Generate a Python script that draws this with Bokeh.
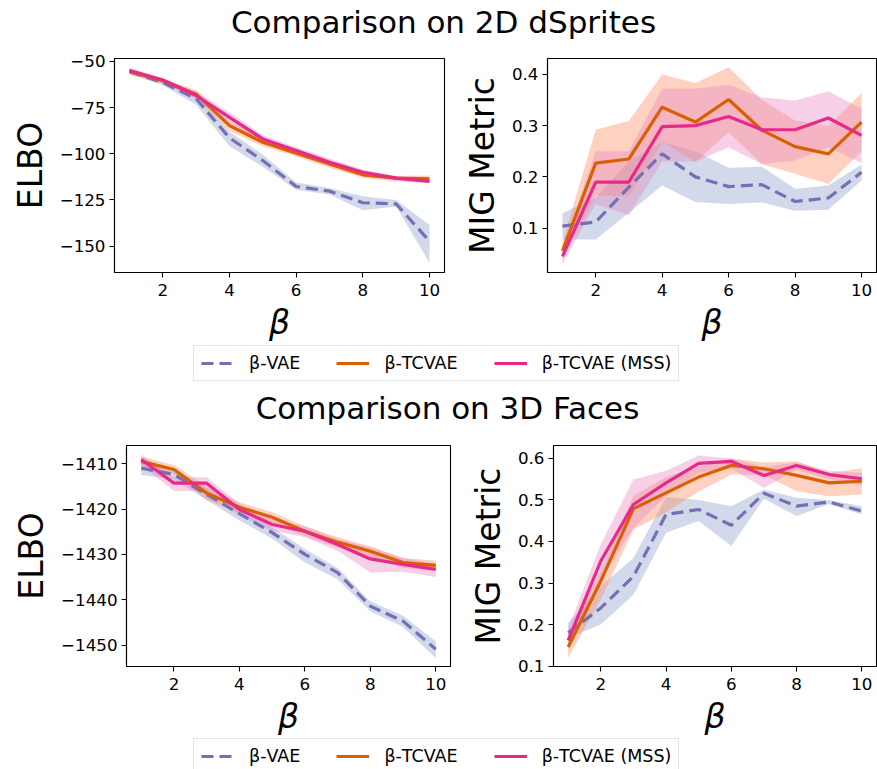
from bokeh.plotting import figure
from bokeh.layouts import column, row
from bokeh.models import Range1d, FixedTicker, CustomJSTickFormatter, Legend, LegendItem
from bokeh.embed import file_html
from bokeh.resources import INLINE

# ---------------- data ----------------
beta = [1, 2, 3, 4, 5, 6, 7, 8, 9, 10]
x_ticks = [2, 4, 6, 8, 10]

# 2D dSprites - ELBO
ds_elbo_vae = [-55.5, -61.5, -70.3, -91.4, -103.7, -117.7, -120.2, -126.5, -127.1, -147.3]
ds_elbo_vae_lo = [-57.0, -63.0, -73.5, -96.0, -107.0, -119.5, -122.0, -130.5, -128.5, -159.0]
ds_elbo_vae_hi = [-54.0, -60.0, -67.5, -88.0, -100.5, -115.5, -118.5, -123.0, -125.0, -138.5]
ds_elbo_tc = [-55.5, -60.5, -67.8, -84.8, -93.8, -99.7, -105.5, -111.4, -113.2, -113.6]
ds_elbo_tc_lo = [-57.0, -62.0, -70.0, -87.5, -96.0, -101.5, -107.5, -113.0, -114.8, -115.5]
ds_elbo_tc_hi = [-54.0, -59.5, -65.5, -82.5, -91.5, -97.5, -103.5, -109.5, -112.0, -111.8]
ds_elbo_mss = [-55.0, -60.1, -68.5, -80.3, -92.0, -98.3, -104.6, -110.0, -113.2, -114.9]
ds_elbo_mss_lo = [-56.5, -61.5, -70.5, -83.0, -94.0, -100.0, -106.5, -111.5, -114.5, -116.0]
ds_elbo_mss_hi = [-53.5, -59.0, -66.5, -77.5, -90.0, -96.5, -102.5, -108.5, -112.0, -113.5]
ds_elbo_ticks = [-150, -125, -100, -75, -50]

# 2D dSprites - MIG
ds_mig_vae = [0.104, 0.112, 0.180, 0.245, 0.200, 0.181, 0.185, 0.152, 0.159, 0.209]
ds_mig_vae_lo = [0.078, 0.078, 0.130, 0.183, 0.151, 0.147, 0.150, 0.134, 0.136, 0.193]
ds_mig_vae_hi = [0.129, 0.160, 0.230, 0.268, 0.250, 0.218, 0.220, 0.177, 0.183, 0.224]
ds_mig_tc = [0.056, 0.227, 0.235, 0.336, 0.307, 0.351, 0.291, 0.259, 0.245, 0.307]
ds_mig_tc_lo = [0.040, 0.164, 0.162, 0.268, 0.229, 0.287, 0.225, 0.206, 0.186, 0.250]
ds_mig_tc_hi = [0.072, 0.292, 0.309, 0.400, 0.383, 0.414, 0.350, 0.310, 0.300, 0.363]
ds_mig_mss = [0.045, 0.190, 0.190, 0.298, 0.300, 0.318, 0.292, 0.292, 0.315, 0.281]
ds_mig_mss_lo = [0.030, 0.147, 0.125, 0.230, 0.230, 0.258, 0.225, 0.232, 0.258, 0.227]
ds_mig_mss_hi = [0.060, 0.250, 0.250, 0.372, 0.372, 0.380, 0.355, 0.349, 0.367, 0.333]
ds_mig_ticks = [0.1, 0.2, 0.3, 0.4]

# 3D Faces - ELBO
fc_elbo_vae = [-1411.0, -1412.4, -1416.8, -1421.0, -1425.2, -1430.0, -1434.0, -1441.4, -1444.7, -1450.9]
fc_elbo_vae_lo = [-1412.5, -1413.5, -1418.0, -1422.5, -1426.5, -1431.8, -1435.5, -1442.5, -1446.0, -1452.8]
fc_elbo_vae_hi = [-1409.5, -1411.3, -1415.5, -1419.8, -1424.0, -1428.8, -1433.0, -1440.3, -1443.5, -1449.2]
fc_elbo_tc = [-1409.5, -1411.3, -1416.5, -1419.6, -1421.8, -1424.9, -1427.3, -1429.3, -1431.8, -1432.4]
fc_elbo_tc_lo = [-1410.5, -1412.3, -1418.0, -1420.8, -1423.0, -1426.0, -1428.5, -1430.5, -1433.0, -1433.5]
fc_elbo_tc_hi = [-1408.5, -1410.3, -1415.0, -1418.5, -1420.7, -1423.8, -1426.2, -1428.2, -1430.8, -1431.4]
fc_elbo_mss = [-1409.1, -1414.3, -1414.3, -1420.1, -1423.4, -1424.9, -1427.8, -1431.0, -1432.2, -1433.3]
fc_elbo_mss_lo = [-1410.3, -1416.0, -1416.0, -1421.5, -1424.8, -1426.2, -1429.2, -1434.0, -1433.8, -1435.0]
fc_elbo_mss_hi = [-1408.0, -1413.0, -1413.0, -1418.8, -1422.2, -1423.8, -1426.6, -1428.5, -1430.8, -1432.0]
fc_elbo_ticks = [-1450, -1440, -1430, -1420, -1410]

# 3D Faces - MIG
fc_mig_vae = [0.180, 0.240, 0.316, 0.465, 0.477, 0.439, 0.516, 0.485, 0.495, 0.473]
fc_mig_vae_lo = [0.168, 0.200, 0.272, 0.421, 0.449, 0.389, 0.503, 0.461, 0.490, 0.465]
fc_mig_vae_hi = [0.205, 0.292, 0.360, 0.507, 0.500, 0.485, 0.525, 0.505, 0.500, 0.485]
fc_mig_tc = [0.146, 0.305, 0.479, 0.517, 0.555, 0.583, 0.575, 0.559, 0.541, 0.545]
fc_mig_tc_lo = [0.120, 0.260, 0.429, 0.470, 0.520, 0.561, 0.560, 0.521, 0.509, 0.513]
fc_mig_tc_hi = [0.170, 0.330, 0.510, 0.555, 0.580, 0.600, 0.590, 0.593, 0.565, 0.576]
fc_mig_mss = [0.162, 0.353, 0.489, 0.541, 0.588, 0.593, 0.559, 0.583, 0.561, 0.551]
fc_mig_mss_lo = [0.140, 0.310, 0.432, 0.510, 0.565, 0.575, 0.529, 0.573, 0.550, 0.535]
fc_mig_mss_hi = [0.190, 0.393, 0.549, 0.570, 0.607, 0.600, 0.580, 0.590, 0.570, 0.565]
fc_mig_ticks = [0.1, 0.2, 0.3, 0.4, 0.5, 0.6]

labels = ["β-VAE", "β-TCVAE", "β-TCVAE (MSS)"]
titles = ["Comparison on 2D dSprites", "Comparison on 3D Faces"]

# ---------------- style ----------------
FONT = "DejaVu Sans"
LINE_COLORS = ["#7570b3", "#d95f02", "#e7298a"]
FILL_COLORS = ["#8da0cb", "#fc8d62", "#e78ac3"]
DASHES = ["12 6", "solid", "solid"]
LW = 3.2
TICK_FS = "16.7px"
LEGEND_FS = "17.5px"

neg_fmt = CustomJSTickFormatter(code="return tick < 0 ? '\\u2212' + Math.abs(tick) : String(tick);")
dec_fmt = CustomJSTickFormatter(code="return tick.toFixed(1);")


def make_panel(series, yticks, yrange, ylabel, fmt, fw, fh, mbl, mbr, mbt, mbb):
    p = figure(frame_width=fw, frame_height=fh,
               x_range=Range1d(0.55, 10.45), y_range=Range1d(*yrange),
               output_backend="svg", toolbar_location=None,
               min_border_left=mbl, min_border_right=mbr,
               min_border_top=mbt, min_border_bottom=mbb)
    p.grid.visible = False
    p.outline_line_color = "black"
    p.outline_line_width = 1.1
    p.background_fill_color = "white"
    p.border_fill_color = "white"
    for ax in (p.xaxis[0], p.yaxis[0]):
        ax.axis_line_color = "black"
        ax.axis_line_width = 1.1
        ax.major_tick_line_color = "black"
        ax.major_tick_line_width = 1.1
        ax.major_tick_in = 0
        ax.major_tick_out = 5
        ax.minor_tick_line_color = None
        ax.major_label_text_font = FONT
        ax.major_label_text_font_size = TICK_FS
        ax.major_label_text_color = "black"
        ax.axis_label_text_font = FONT
        ax.axis_label_text_font_size = "33px"
        ax.axis_label_text_color = "black"
    p.xaxis.ticker = FixedTicker(ticks=x_ticks)
    p.yaxis.ticker = FixedTicker(ticks=yticks)
    p.yaxis.formatter = fmt
    p.xaxis.major_label_standoff = 6
    p.yaxis.major_label_standoff = 4
    p.xaxis.axis_label = "β"
    p.xaxis.axis_label_text_font_style = "italic"
    p.xaxis.axis_label_standoff = 4
    p.yaxis.axis_label = ylabel
    p.yaxis.axis_label_text_font_style = "normal"
    p.yaxis.axis_label_standoff = 7
    for (mean, lo, hi), fc in zip(series, FILL_COLORS):
        p.varea(x=beta, y1=lo, y2=hi, fill_color=fc, fill_alpha=0.4)
    for (mean, lo, hi), lc, dash in zip(series, LINE_COLORS, DASHES):
        p.line(x=beta, y=mean, line_color=lc, line_width=LW, line_dash=dash)
    return p


def make_title(text, h, mbl, mbt):
    # heading strip: the text is an axis label centred over this strip's frame
    p = figure(width=877, height=h, x_range=Range1d(0, 1), y_range=Range1d(0, 1),
               x_axis_location="above", y_axis_type=None,
               output_backend="svg", toolbar_location=None,
               min_border_left=mbl, min_border_right=0, min_border_top=mbt, min_border_bottom=0)
    p.grid.visible = False
    p.outline_line_color = None
    ax = p.xaxis[0]
    ax.ticker = FixedTicker(ticks=[])
    ax.axis_line_color = None
    ax.major_tick_line_color = None
    ax.minor_tick_line_color = None
    ax.major_tick_out = 0
    ax.major_tick_in = 0
    ax.major_label_standoff = 0
    ax.axis_label = text
    ax.axis_label_standoff = 0
    ax.axis_label_text_font = FONT
    ax.axis_label_text_font_size = "31px"
    ax.axis_label_text_font_style = "normal"
    ax.axis_label_text_color = "black"
    return p


def make_legend(h, left, top, series):
    # legend renderers carry real data, placed outside this strip's visible range
    p = figure(width=877, height=h, x_range=Range1d(-2, -1), y_range=Range1d(0, 1),
               x_axis_type=None, y_axis_type=None,
               output_backend="svg", toolbar_location=None,
               min_border_left=left, min_border_right=0, min_border_top=top, min_border_bottom=0)
    p.grid.visible = False
    p.outline_line_color = None
    items = []
    for lab, ys, lc, dash in zip(labels, series, LINE_COLORS, DASHES):
        r = p.line(x=beta, y=ys, line_color=lc, line_width=LW, line_dash=dash)
        items.append(LegendItem(label=lab, renderers=[r]))
    leg = Legend(items=items, orientation="horizontal", location="top_left", margin=0,
                 padding=7, spacing=36, label_standoff=15, glyph_width=33, glyph_height=20,
                 label_text_font=FONT, label_text_font_size=LEGEND_FS, label_text_color="black",
                 border_line_color="#cccccc", border_line_width=1.2,
                 background_fill_color="white", background_fill_alpha=0.8)
    p.add_layout(leg, "center")
    return p


p1 = make_panel([(ds_elbo_vae, ds_elbo_vae_lo, ds_elbo_vae_hi),
                 (ds_elbo_tc, ds_elbo_tc_lo, ds_elbo_tc_hi),
                 (ds_elbo_mss, ds_elbo_mss_lo, ds_elbo_mss_hi)],
                ds_elbo_ticks, (-164.2, -48.5), "ELBO", neg_fmt,
                330, 214, 114, 8, 8, 72)
p2 = make_panel([(ds_mig_vae, ds_mig_vae_lo, ds_mig_vae_hi),
                 (ds_mig_tc, ds_mig_tc_lo, ds_mig_tc_hi),
                 (ds_mig_mss, ds_mig_mss_lo, ds_mig_mss_hi)],
                ds_mig_ticks, (0.0135, 0.431), "MIG Metric", dec_fmt,
                329, 214, 95, 1, 8, 72)
p3 = make_panel([(fc_elbo_vae, fc_elbo_vae_lo, fc_elbo_vae_hi),
                 (fc_elbo_tc, fc_elbo_tc_lo, fc_elbo_tc_hi),
                 (fc_elbo_mss, fc_elbo_mss_lo, fc_elbo_mss_hi)],
                fc_elbo_ticks, (-1454.7, -1406.0), "ELBO", neg_fmt,
                324, 221, 126, 4, 8, 72)
p4 = make_panel([(fc_mig_vae, fc_mig_vae_lo, fc_mig_vae_hi),
                 (fc_mig_tc, fc_mig_tc_lo, fc_mig_tc_hi),
                 (fc_mig_mss, fc_mig_mss_lo, fc_mig_mss_hi)],
                fc_mig_ticks, (0.099, 0.631), "MIG Metric", dec_fmt,
                323, 221, 99, 1, 8, 72)

t1 = make_title(titles[0], 50, 9, 38)
t2 = make_title(titles[1], 51, 17, 38)
l1 = make_legend(42, 193, 1, [ds_elbo_vae, ds_elbo_tc, ds_elbo_mss])
l2 = make_legend(31, 193, 0, [fc_elbo_vae, fc_elbo_tc, fc_elbo_mss])

# each strip sits in its own row so that the column does not align their frames
layout = column(row(t1), row(p1, p2), row(l1), row(t2), row(p3, p4), row(l2))

open("out.html", "w").write(file_html(layout, INLINE))
